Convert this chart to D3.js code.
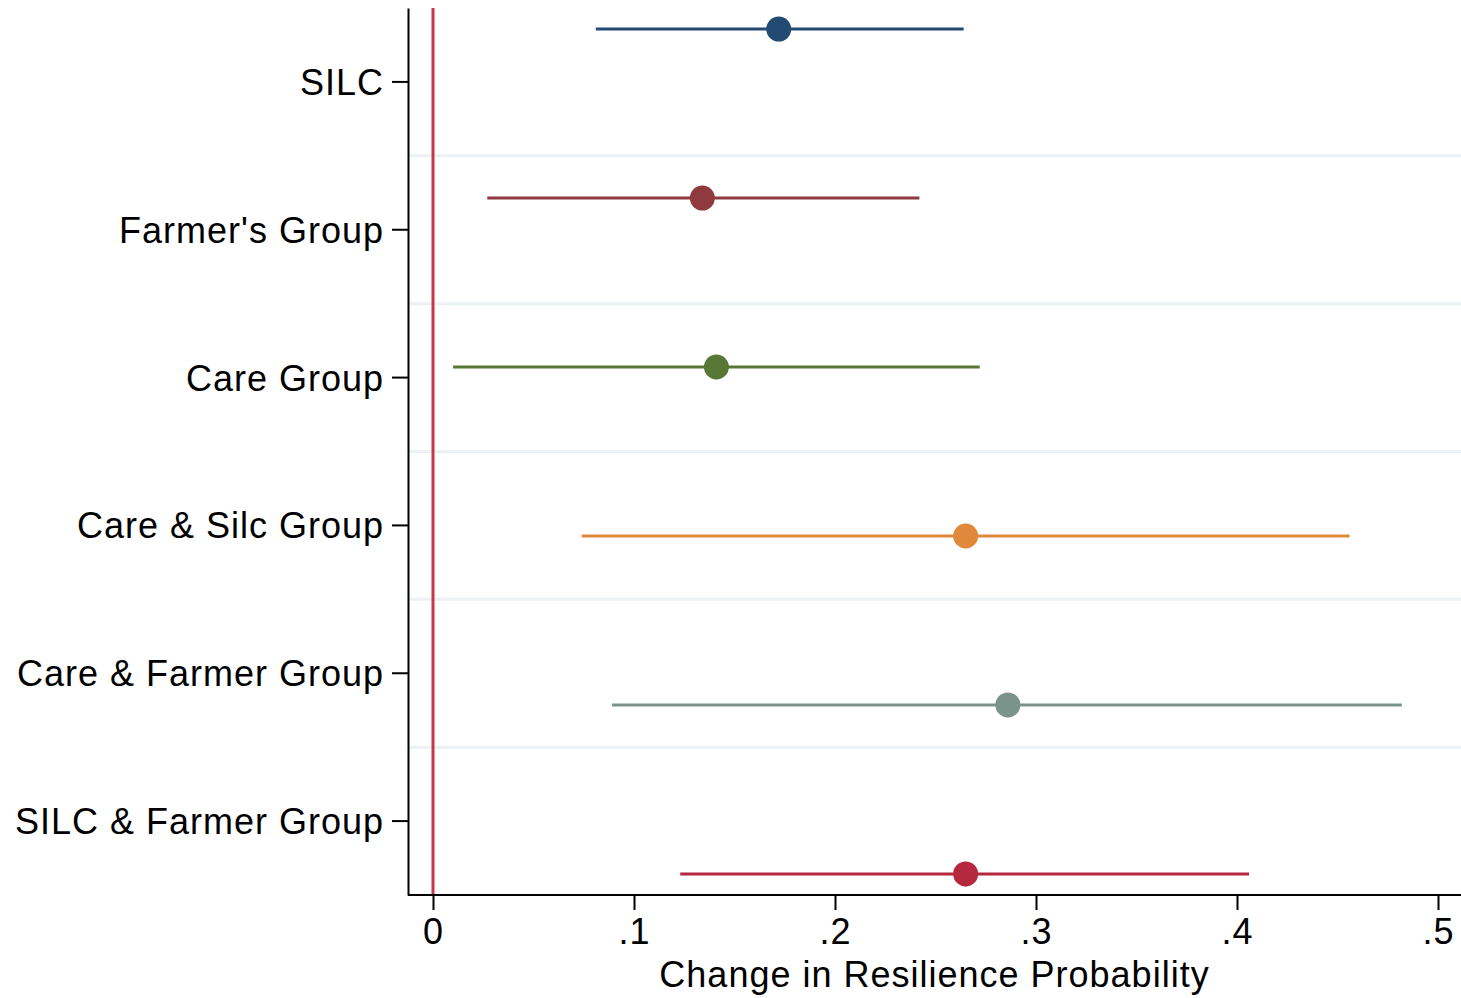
<!DOCTYPE html>
<html>
<head>
<meta charset="utf-8">
<script src="https://cdn.jsdelivr.net/npm/d3@7"></script>
<style>
  body { margin: 0; background: #fff; }
  text { font-family: "Liberation Sans", Arial, Helvetica, sans-serif; fill: #000; letter-spacing: 1px; }
</style>
</head>
<body>
<div id="chart"></div>
<script>
// categories and estimates
const groups = ["SILC", "Farmer's Group", "Care Group", "Care & Silc Group", "Care & Farmer Group", "SILC & Farmer Group"];
const estimates = [0.172, 0.134, 0.141, 0.265, 0.286, 0.265];
const lower = [0.081, 0.027, 0.010, 0.074, 0.089, 0.123];
const upper = [0.264, 0.242, 0.272, 0.456, 0.482, 0.406];
const colors = ["#234a72", "#8e3a3e", "#587634", "#e0893a", "#7a948c", "#b5283e"];
const xTicks = [0, 0.1, 0.2, 0.3, 0.4, 0.5];

var W = 1461, H = 998;
var margin = {top: 8, right: 0, bottom: 103, left: 408},
    width = W - margin.left - margin.right,
    height = H - margin.top - margin.bottom;

var svg = d3.select("#chart")
    .append("svg")
    .attr("width", W)
    .attr("height", H)
    .append("g")
    .attr("transform", "translate(" + margin.left + "," + margin.top + ")");

var data = groups.map(function(g, i) {
    return {group: g, est: estimates[i], lo: lower[i], hi: upper[i], color: colors[i]};
});

// x scale: 0 at 25px into the plot, .5 near the right edge
var x = d3.scaleLinear()
    .domain([0, 0.5])
    .range([25, 1030]);

// label positions (bands) and marker positions (points) differ, as in coefplot
var yBand = d3.scaleBand()
    .domain(groups)
    .range([0, height]);

var yPoint = d3.scalePoint()
    .domain(groups)
    .range([0, height])
    .padding(0.125);

// light separators between categories
svg.selectAll(".sep")
    .data(groups.slice(1))
    .enter()
    .append("line")
    .attr("class", "sep")
    .attr("x1", 0)
    .attr("x2", width)
    .attr("y1", function(d) { return yBand(d); })
    .attr("y2", function(d) { return yBand(d); })
    .attr("stroke", "#eaf2f3")
    .attr("stroke-width", 3);

// reference line at zero
svg.append("line")
    .attr("x1", x(0))
    .attr("x2", x(0))
    .attr("y1", 0)
    .attr("y2", height)
    .attr("stroke", "#c8364a")
    .attr("stroke-width", 3);

// confidence intervals
svg.selectAll(".ci")
    .data(data)
    .enter()
    .append("line")
    .attr("class", "ci")
    .attr("x1", function(d) { return x(d.lo); })
    .attr("x2", function(d) { return x(d.hi); })
    .attr("y1", function(d) { return yPoint(d.group); })
    .attr("y2", function(d) { return yPoint(d.group); })
    .attr("stroke", function(d) { return d.color; })
    .attr("stroke-width", 3);

// point estimates
svg.selectAll(".pt")
    .data(data)
    .enter()
    .append("circle")
    .attr("class", "pt")
    .attr("cx", function(d) { return x(d.est); })
    .attr("cy", function(d) { return yPoint(d.group); })
    .attr("r", 12.5)
    .attr("fill", function(d) { return d.color; });

// Y axis
var yAxis = svg.append("g")
    .call(d3.axisLeft(yBand).tickSize(16).tickPadding(8).tickSizeOuter(0));
yAxis.select(".domain").attr("stroke", "#000").attr("stroke-width", 2);
yAxis.selectAll(".tick line").attr("stroke", "#000").attr("stroke-width", 2);
yAxis.selectAll("text")
    .attr("font-size", 36)
    .attr("dy", "0.36em");

// X axis
var xAxis = svg.append("g")
    .attr("transform", "translate(0," + height + ")")
    .call(d3.axisBottom(x)
        .tickValues(xTicks)
        .tickSize(15)
        .tickPadding(8)
        .tickSizeOuter(0)
        .tickFormat(function(d) { return d === 0 ? "0" : d3.format(".1f")(d).replace(/^0/, ""); }));
xAxis.select(".domain")
    .attr("d", "M0,0H" + width)
    .attr("stroke", "#000")
    .attr("stroke-width", 2);
xAxis.selectAll(".tick line").attr("stroke", "#000").attr("stroke-width", 2);
xAxis.selectAll("text")
    .attr("font-size", 36)
    .attr("dy", "0.72em");

// x axis title
svg.append("text")
    .attr("x", width / 2)
    .attr("y", height + 92)
    .attr("text-anchor", "middle")
    .attr("font-size", 36)
    .text("Change in Resilience Probability");
</script>
</body>
</html>
